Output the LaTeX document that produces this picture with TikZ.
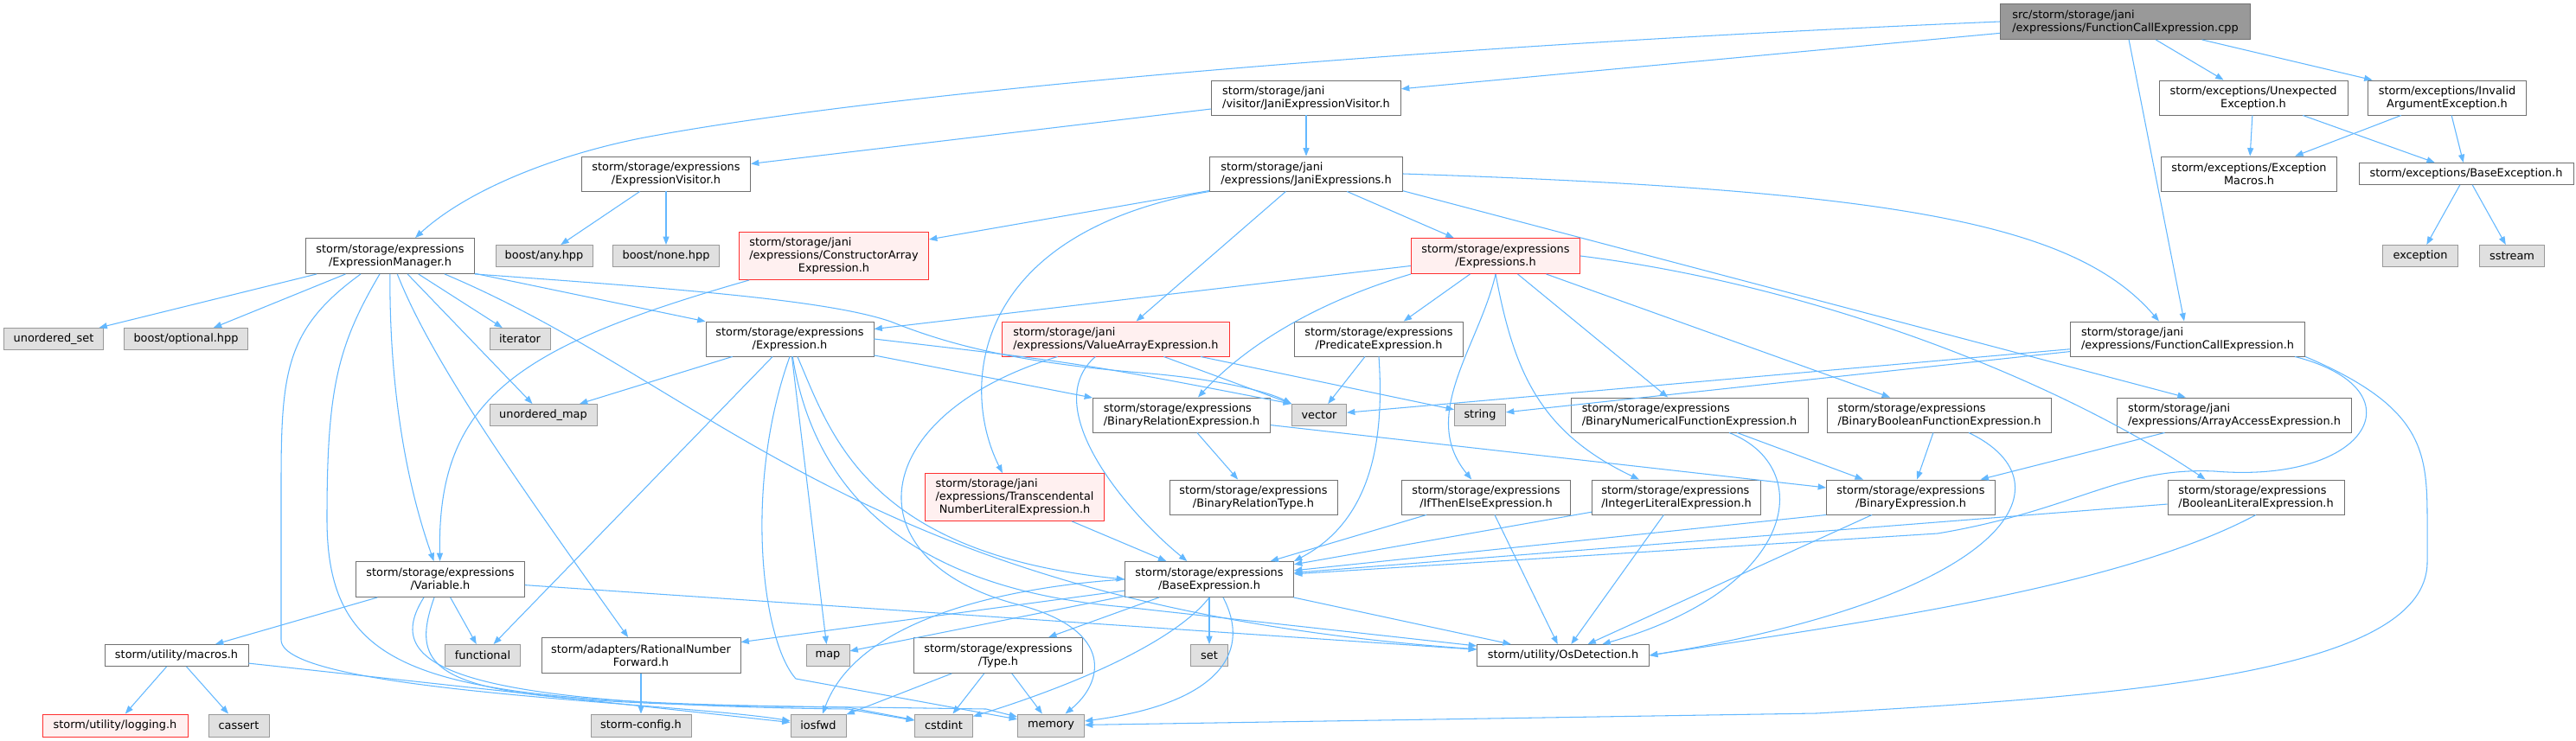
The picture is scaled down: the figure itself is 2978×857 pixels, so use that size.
\documentclass[tikz,border=0pt]{standalone}
\usepackage{fontspec}
\usepackage{calc}
\setmainfont{DejaVu Sans}
\usetikzlibrary{arrows.meta,calc}
\definecolor{depblue}{HTML}{63B8FF}
\definecolor{boxgray}{HTML}{707070}
\definecolor{sysgray}{HTML}{999999}
\definecolor{sysfill}{HTML}{E0E0E0}
\definecolor{truncred}{HTML}{FF3030}
\definecolor{truncfill}{HTML}{FFF0F0}
\definecolor{srcfill}{HTML}{999999}

\begin{document}
\begin{tikzpicture}[x=0.3mm, y=-0.3mm,
    hdr/.style={draw=boxgray, fill=white, line width=0.8pt, inner sep=0pt, align=center,
      font=\fontsize{11}{12.8}\selectfont},
    sys/.style={hdr, draw=sysgray, fill=sysfill},
    trunc/.style={hdr, draw=truncred, fill=truncfill},
    src/.style={hdr, draw=boxgray, fill=srcfill},
    wh/.style 2 args={minimum width=#1*0.3mm, minimum height=#2*0.3mm},
    dep/.style={-{Triangle[length=8pt,width=6pt]}, draw=depblue, line width=0.9pt}]
  \useasboundingbox (0,0) rectangle (2978,857);
  \fill[white] (0,0) rectangle (2978,857);

  % top rows
  \node[src, wh={289}{41}, align=left] (root) at (2457,25) {src/storm/storage/jani\\/expressions/FunctionCallExpression.cpp};
  \node[hdr, wh={218}{40}] (unexp) at (2605,113) {storm/exceptions/Unexpected\\Exception.h};
  \node[hdr, wh={183}{40}] (invarg) at (2829,113) {storm/exceptions/Invalid\\ArgumentException.h};
  \node[hdr, wh={203}{40}] (exmacros) at (2600,201) {storm/exceptions/Exception\\Macros.h};
  \node[hdr, wh={248}{25}] (baseexc) at (2851,201) {storm/exceptions/BaseException.h};
  \node[sys, wh={87}{25}] (exception) at (2798,296) {exception};
  \node[sys, wh={75}{25}] (sstream) at (2904,296) {sstream};
  \node[hdr, wh={219}{40}, align=left] (janivis) at (1510,113) {storm/storage/jani\\/visitor/JaniExpressionVisitor.h};
  \node[hdr, wh={223}{40}, align=left] (janiexpr) at (1510,201) {storm/storage/jani\\/expressions/JaniExpressions.h};
  \node[hdr, wh={195}{40}] (exprvis) at (770,201) {storm/storage/expressions\\/ExpressionVisitor.h};
  \node[sys, wh={112}{25}] (boostany) at (629,296) {boost/any.hpp};
  \node[sys, wh={123}{25}] (boostnone) at (770,296) {boost/none.hpp};
  \node[hdr, wh={195}{41}] (exprmgr) at (451,296) {storm/storage/expressions\\/ExpressionManager.h};
  \node[trunc, wh={219}{55}, align=left] (ctorarr) at (964,296) {storm/storage/jani\\/expressions/ConstructorArray\\\makebox[\widthof{/expressions/ConstructorArray}]{Expression.h}};
  \node[trunc, wh={195}{41}] (exprs) at (1729,296) {storm/storage/expressions\\/Expressions.h};

  % middle rows
  \node[sys, wh={115}{25}] (unset) at (62,392) {unordered\_set};
  \node[sys, wh={143}{25}] (boostopt) at (215,392) {boost/optional.hpp};
  \node[sys, wh={70}{25}] (iterator) at (601,392) {iterator};
  \node[hdr, wh={194}{40}] (expr) at (913,392) {storm/storage/expressions\\/Expression.h};
  \node[trunc, wh={263}{40}, align=left] (valarr) at (1290,392) {storm/storage/jani\\/expressions/ValueArrayExpression.h};
  \node[hdr, wh={195}{40}] (pred) at (1594,392) {storm/storage/expressions\\/PredicateExpression.h};
  \node[hdr, wh={271}{40}, align=left] (fcallh) at (2529,392) {storm/storage/jani\\/expressions/FunctionCallExpression.h};
  \node[sys, wh={124}{25}] (umap) at (628,480) {unordered\_map};
  \node[sys, wh={63}{25}] (vector) at (1525,480) {vector};
  \node[sys, wh={59}{25}] (string) at (1711,480) {string};
  \node[hdr, wh={205}{40}, align=left] (binrel) at (1366,480) {storm/storage/expressions\\/BinaryRelationExpression.h};
  \node[hdr, wh={274}{40}, align=left] (binnum) at (1953,480) {storm/storage/expressions\\/BinaryNumericalFunctionExpression.h};
  \node[hdr, wh={259}{40}, align=left] (binbool) at (2242,480) {storm/storage/expressions\\/BinaryBooleanFunctionExpression.h};
  \node[hdr, wh={271}{40}, align=left] (arracc) at (2583,480) {storm/storage/jani\\/expressions/ArrayAccessExpression.h};
  \node[trunc, wh={207}{55}, align=left] (transc) at (1173,575) {storm/storage/jani\\/expressions/Transcendental\\\makebox[\widthof{/expressions/Transcendental}]{NumberLiteralExpression.h}};
  \node[hdr, wh={194}{40}] (binreltype) at (1449,575) {storm/storage/expressions\\/BinaryRelationType.h};
  \node[hdr, wh={195}{40}] (ite) at (1718,575) {storm/storage/expressions\\/IfThenElseExpression.h};
  \node[hdr, wh={195}{40}, align=left] (intlit) at (1938,575) {storm/storage/expressions\\/IntegerLiteralExpression.h};
  \node[hdr, wh={195}{40}] (binexpr) at (2209,575) {storm/storage/expressions\\/BinaryExpression.h};
  \node[hdr, wh={204}{40}, align=left] (boollit) at (2608,575) {storm/storage/expressions\\/BooleanLiteralExpression.h};

  % lower rows
  \node[hdr, wh={195}{41}] (variable) at (509,670) {storm/storage/expressions\\/Variable.h};
  \node[hdr, wh={195}{41}] (baseexpr) at (1398,670) {storm/storage/expressions\\/BaseExpression.h};
  \node[hdr, wh={166}{25}] (macros) at (204,758) {storm/utility/macros.h};
  \node[sys, wh={87}{25}] (functional) at (558,758) {functional};
  \node[hdr, wh={230}{41}] (ratfwd) at (741,758) {storm/adapters/RationalNumber\\Forward.h};
  \node[sys, wh={50}{25}] (map) at (957,758) {map};
  \node[hdr, wh={195}{41}] (type) at (1154,758) {storm/storage/expressions\\/Type.h};
  \node[sys, wh={43}{25}] (set) at (1398,758) {set};
  \node[hdr, wh={199}{25}] (osdet) at (1807,758) {storm/utility/OsDetection.h};
  \node[trunc, wh={168}{26}] (logging) at (133,839) {storm/utility/logging.h};
  \node[sys, wh={70}{26}] (cassert) at (276,839) {cassert};
  \node[sys, wh={116}{26}] (stormcfg) at (741,839) {storm-config.h};
  \node[sys, wh={64}{26}] (iosfwd) at (946,839) {iosfwd};
  \node[sys, wh={67}{26}] (cstdint) at (1091,839) {cstdint};
  \node[sys, wh={77}{26}] (memory) at (1215,839) {memory};

  % root
  \draw[dep] (root) -- (janivis);
  \draw[dep] (root.west) .. controls (1600,55) and (1000,110) .. (740,160)
    .. controls (640,180) and (540,220) .. ($(exprmgr.north)+(29,0)$);
  \draw[dep] (root) -- (fcallh);
  \draw[dep] (root) -- (unexp);
  \draw[dep] (root) -- (invarg);
  \draw[dep] (unexp) -- (exmacros);
  \draw[dep] (unexp) -- (baseexc);
  \draw[dep] (invarg) -- (exmacros);
  \draw[dep] (invarg) -- (baseexc);
  \draw[dep] (baseexc) -- (exception);
  \draw[dep] (baseexc) -- (sstream);

  % jani
  \draw[dep] (janivis) -- (exprvis);
  \draw[dep] (janivis) -- (janiexpr);
  \draw[dep] (exprvis) -- (boostany);
  \draw[dep] (exprvis) -- (boostnone);
  \draw[dep] (janiexpr) -- (ctorarr);
  \draw[dep] (janiexpr.south west) .. controls (1120,270) and (1110,450) .. (transc);
  \draw[dep] (janiexpr) -- (valarr);
  \draw[dep] (janiexpr) -- (exprs);
  \draw[dep] (janiexpr.-10) -- (arracc.160);
  \draw[dep] (janiexpr.east) .. controls (2200,220) and (2400,260) .. ($(fcallh.north)+(-33,0)$);
  \draw[dep] (ctorarr) .. controls (600,400) and (505,460) .. (variable);

  % expression manager
  \draw[dep] (exprmgr) -- (unset);
  \draw[dep] (exprmgr) -- (boostopt);
  \draw[dep] ($(exprmgr.south)+(-34,0)$) .. controls (330,380) and (325,430) .. (325,560)
    -- (325,740) .. controls (325,800) and (780,812) .. (iosfwd);
  \draw[dep] ($(exprmgr.south)+(-12,0)$) .. controls (390,400) and (378,450) .. (378,600)
    .. controls (378,790) and (500,812) .. (980,818) -- (cstdint);
  \draw[dep] (exprmgr) .. controls (450,450) and (470,560) .. (variable);
  \draw[dep] (exprmgr) .. controls (500,420) and (600,560) .. (ratfwd);
  \draw[dep] (exprmgr) -- (umap);
  \draw[dep] (exprmgr) -- (iterator);
  \draw[dep] ($(exprmgr.south)+(63,0)$) .. controls (830,450) and (1000,700) .. (osdet);
  \draw[dep] (exprmgr) -- (expr);
  \draw[dep] (exprmgr.south east) .. controls (800,335) and (960,348) .. (1030,372)
    .. controls (1100,400) and (1180,420) .. (1330,432)
    .. controls (1420,440) and (1470,455) .. (vector.north west);

  % expression
  \draw[dep] (expr) -- (umap);
  \draw[dep] (expr) -- (functional);
  \draw[dep] (expr) -- (map);
  \draw[dep] (expr.south) .. controls (860,560) and (880,740) .. (920,785) -- (memory);
  \draw[dep] (expr) .. controls (960,500) and (1000,640) .. (baseexpr.west);
  \draw[dep] (expr) .. controls (940,560) and (1040,680) .. (1300,702) -- (osdet);
  \draw[dep] (expr) -- (binrel);
  \draw[dep] (expr.east) .. controls (1250,420) .. (vector.north west);

  % value array
  \draw[dep] (valarr) -- (vector.north west);
  \draw[dep] (valarr) -- (string);
  \draw[dep] (valarr) .. controls (1200,470) and (1300,590) .. (baseexpr);
  \draw[dep] (valarr) .. controls (1000,480) and (980,650) .. (1180,700)
    .. controls (1290,730) and (1275,790) .. (memory);
  \draw[dep] (transc) -- (baseexpr);
  \draw[dep] (pred) -- (vector);
  \draw[dep] (pred.south) .. controls (1600,500) and (1590,600) .. (baseexpr.north east);

  % expressions
  \draw[dep] (exprs) -- (expr);
  \draw[dep] (exprs.south west) .. controls (1520,350) and (1440,400) .. (binrel);
  \draw[dep] (exprs) -- (pred);
  \draw[dep] (exprs.south) .. controls (1710,400) and (1640,480) .. (ite);
  \draw[dep] (exprs.south) .. controls (1750,430) and (1780,500) .. (intlit);
  \draw[dep] (exprs) -- (binnum);
  \draw[dep] (exprs) -- (binbool);
  \draw[dep] (exprs.east) .. controls (2100,330) and (2380,440) .. ($(boollit.north west)+(44,0)$);

  % binary
  \draw[dep] (binrel) -- (binreltype);
  \draw[dep] (binrel) -- (binexpr);
  \draw[dep] (binnum) -- (binexpr);
  \draw[dep] ($(binnum.south)+(46,0)$) .. controls (2100,540) and (2080,680) .. (osdet);
  \draw[dep] (binbool) -- (binexpr);
  \draw[dep] ($(binbool.south)+(34,0)$) .. controls (2400,560) and (2320,690) .. (osdet.east);
  \draw[dep] (arracc) -- (binexpr);
  \draw[dep] (ite) -- (baseexpr);
  \draw[dep] (ite) -- (osdet);
  \draw[dep] (intlit) -- (baseexpr);
  \draw[dep] (intlit) -- (osdet);
  \draw[dep] (binexpr.south west) -- (baseexpr);
  \draw[dep] (binexpr) -- (osdet);
  \draw[dep] (boollit) -- (baseexpr);
  \draw[dep] (boollit.south) .. controls (2450,680) and (2150,720) .. (osdet.east);

  % function call header
  \draw[dep] (fcallh) -- (string);
  \draw[dep] (fcallh) -- (vector);
  \draw[dep] ($(fcallh.south east)+(-12,0)$) .. controls (2800,450) and (2740,560) .. (2560,545)
    .. controls (2450,540) and (2400,590) .. (2240,617) -- (baseexpr);
  \draw[dep] (fcallh.south east) .. controls (2800,470) and (2806,520) .. (2806,600)
    -- (2806,650) .. controls (2806,780) and (2450,805) .. (2100,825) -- (memory);

  % variable
  \draw[dep] (variable) -- (macros);
  \draw[dep] (variable) -- (functional);
  \draw[dep] (variable) -- (osdet);
  \draw[dep] ($(variable.south)+(-19,0)$) .. controls (440,770) and (520,815) .. (980,820) -- (cstdint);
  \draw[dep] ($(variable.south)+(-7,0)$) .. controls (465,795) and (520,815) .. (1000,818)
    -- (1140,820) -- (memory);
  \draw[dep] (macros) -- (logging);
  \draw[dep] (macros) -- (cassert);
  \draw[dep] (macros) -- (iosfwd);
  \draw[dep] (ratfwd) -- (stormcfg);

  % base expression
  \draw[dep] (baseexpr) -- (ratfwd);
  \draw[dep] (baseexpr) -- (map);
  \draw[dep] (baseexpr.west) .. controls (1150,680) and (990,720) .. (iosfwd);
  \draw[dep] (baseexpr) -- (type);
  \draw[dep] (baseexpr.south) .. controls (1360,740) and (1250,790) .. (cstdint);
  \draw[dep] (baseexpr) -- (set);
  \draw[dep] ($(baseexpr.south)+(16,0)$) .. controls (1450,760) and (1400,815) .. (memory);
  \draw[dep] (baseexpr) -- (osdet);
  \draw[dep] (type) -- (iosfwd);
  \draw[dep] (type) -- (cstdint);
  \draw[dep] (type) -- (memory);
\end{tikzpicture}
\end{document}
